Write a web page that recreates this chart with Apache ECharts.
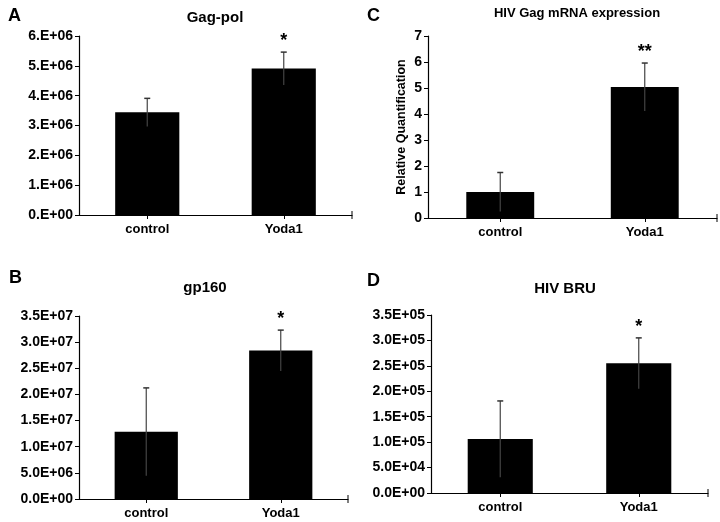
<!DOCTYPE html>
<html>
<head>
<meta charset="utf-8">
<script src="https://cdn.jsdelivr.net/npm/echarts@6/dist/echarts.min.js"></script>
<style>
  html, body { margin: 0; padding: 0; background: #fff; }
  #chart { width: 720px; height: 522px; }
</style>
</head>
<body>
<div id="chart"></div>
<script>
// categories shared by all four panels
const categories = ["control", "Yoda1"];

// A - Gag-pol
const gagPolMean = [3.44e6, 4.91e6];
const gagPolErr = [0.47e6, 0.55e6];
const gagPolSig = ["", "*"];
const gagPolTicks = ["0.E+00", "1.E+06", "2.E+06", "3.E+06", "4.E+06", "5.E+06", "6.E+06"];

// B - gp160
const gp160Mean = [1.285e7, 2.84e7];
const gp160Err = [0.84e7, 0.39e7];
const gp160Sig = ["", "*"];
const gp160Ticks = ["0.0E+00", "5.0E+06", "1.0E+07", "1.5E+07", "2.0E+07", "2.5E+07", "3.0E+07", "3.5E+07"];

// C - HIV Gag mRNA expression
const gagMrnaMean = [1.0, 5.04];
const gagMrnaErr = [0.75, 0.92];
const gagMrnaSig = ["", "**"];
const gagMrnaTicks = ["0", "1", "2", "3", "4", "5", "6", "7"];

// D - HIV BRU
const bruMean = [1.06e5, 2.55e5];
const bruErr = [0.75e5, 0.5e5];
const bruSig = ["", "*"];
const bruTicks = ["0.0E+00", "5.0E+04", "1.0E+05", "1.5E+05", "2.0E+05", "2.5E+05", "3.0E+05", "3.5E+05"];

const FONT = "Liberation Sans, Arial, sans-serif";

const panels = [
    { letter: "A", title: "Gag-pol", titleSize: 15, mean: gagPolMean, err: gagPolErr, sig: gagPolSig, ticks: gagPolTicks, interval: 1e6,
      grid: { left: 79, right: 368, top: 36, bottom: 307 }, titlePos: { x: 210, y: 5 }, letterPos: { x: 3, y: 2 } },
    { letter: "C", title: "HIV Gag mRNA expression", titleSize: 13, mean: gagMrnaMean, err: gagMrnaErr, sig: gagMrnaSig, ticks: gagMrnaTicks, interval: 1,
      grid: { left: 428, right: 3, top: 36, bottom: 304 }, titlePos: { x: 572, y: 2 }, letterPos: { x: 362, y: 2 },
      yName: "Relative Quantification" },
    { letter: "B", title: "gp160", titleSize: 15, mean: gp160Mean, err: gp160Err, sig: gp160Sig, ticks: gp160Ticks, interval: 5e6,
      grid: { left: 79, right: 372, top: 316, bottom: 23 }, titlePos: { x: 200, y: 275 }, letterPos: { x: 4, y: 264 } },
    { letter: "D", title: "HIV BRU", titleSize: 15, mean: bruMean, err: bruErr, sig: bruSig, ticks: bruTicks, interval: 5e4,
      grid: { left: 431, right: 12, top: 315, bottom: 29 }, titlePos: { x: 560, y: 276 }, letterPos: { x: 362, y: 267 } },
];

const chart = echarts.init(document.getElementById("chart"), null, { renderer: "canvas" });

const titles = [];
const grids = [];
const xAxes = [];
const yAxes = [];
const series = [];

panels.forEach((p, i) => {
    titles.push({
        text: p.title,
        left: p.titlePos.x,
        top: p.titlePos.y,
        textAlign: "center",
        textStyle: { fontFamily: FONT, fontSize: p.titleSize, fontWeight: "bold", color: "#000" },
    });
    titles.push({
        text: p.letter,
        left: p.letterPos.x,
        top: p.letterPos.y,
        textStyle: { fontFamily: FONT, fontSize: 18, fontWeight: "bold", color: "#000" },
    });

    grids.push(Object.assign({ containLabel: false }, p.grid));

    xAxes.push({
        type: "category",
        gridIndex: i,
        data: categories,
        axisLine: {
            show: true,
            symbol: ["none", "rect"],
            symbolSize: [8, 1],
            lineStyle: { color: "#000", width: 1.2 },
        },
        axisTick: { show: true, alignWithLabel: true, length: 4, lineStyle: { color: "#000" } },
        axisLabel: { fontFamily: FONT, fontSize: 13, fontWeight: "bold", color: "#000", margin: 8 },
        splitLine: { show: false },
    });

    const ticks = p.ticks;
    const step = p.interval;
    yAxes.push({
        type: "value",
        gridIndex: i,
        min: 0,
        max: step * (ticks.length - 1),
        interval: step,
        name: p.yName || "",
        nameLocation: "middle",
        nameGap: 20,
        nameTextStyle: { fontFamily: FONT, fontSize: 12.5, fontWeight: "bold", color: "#000" },
        axisLine: { show: true, lineStyle: { color: "#000", width: 1.2 } },
        axisTick: { show: true, length: 4, lineStyle: { color: "#000" } },
        axisLabel: {
            fontFamily: FONT, fontSize: 14, fontWeight: "bold", color: "#000", margin: 6,
            formatter: (v) => ticks[Math.round(v / step)],
        },
        splitLine: { show: false },
    });

    series.push({
        type: "bar",
        xAxisIndex: i,
        yAxisIndex: i,
        barWidth: "47%",
        itemStyle: { color: "#000" },
        data: p.mean,
        silent: true,
    });

    // error bars + significance marks
    series.push({
        type: "custom",
        xAxisIndex: i,
        yAxisIndex: i,
        silent: true,
        z: 5,
        data: p.mean.map((m, k) => [k, m, p.err[k]]),
        renderItem: (params, api) => {
            const k = api.value(0);
            const m = api.value(1);
            const e = api.value(2);
            const top = api.coord([k, m + e]);
            const bot = api.coord([k, m - e]);
            const children = [
                { type: "line", shape: { x1: top[0], y1: top[1], x2: bot[0], y2: bot[1] },
                  style: { stroke: "#444", lineWidth: 1.2 } },
                { type: "line", shape: { x1: top[0] - 3, y1: top[1], x2: top[0] + 3, y2: top[1] },
                  style: { stroke: "#333", lineWidth: 1.5 } },
            ];
            const s = p.sig[k];
            if (s) {
                children.push({
                    type: "text",
                    style: {
                        x: top[0], y: top[1] - 2, text: s,
                        font: "bold 18px " + FONT, fill: "#000",
                        textAlign: "center", textVerticalAlign: "bottom",
                    },
                });
            }
            return { type: "group", children };
        },
    });
});

chart.setOption({
    animation: false,
    backgroundColor: "#fff",
    title: titles,
    grid: grids,
    xAxis: xAxes,
    yAxis: yAxes,
    series: series,
});
</script>
</body>
</html>
